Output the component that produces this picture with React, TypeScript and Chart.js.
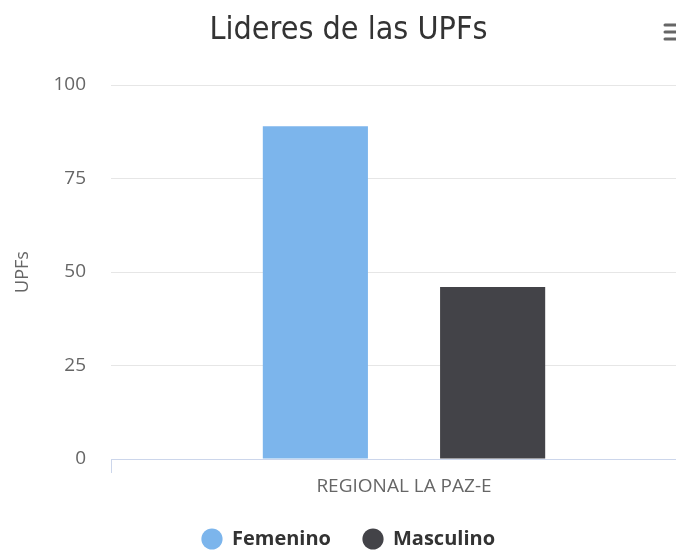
import React, { useEffect, useRef } from "react";
import { Chart, registerables } from "chart.js";

Chart.register(...registerables);

const titleText = "Lideres de las UPFs";
const categories = ["REGIONAL LA PAZ-E"];
const femeninoValues = [89];
const masculinoValues = [46];
const yTicks = [0, 25, 50, 75, 100];
const yAxisTitle = "UPFs";

const menuIcon = {
  id: "menuIcon",
  afterDraw(chart: any) {
    const ctx = chart.ctx;
    ctx.save();
    ctx.strokeStyle = "#666666";
    ctx.lineWidth = 3;
    ctx.lineCap = "round";
    [25, 32, 39].forEach((y) => {
      ctx.beginPath();
      ctx.moveTo(665, y);
      ctx.lineTo(684, y);
      ctx.stroke();
    });
    ctx.restore();
  },
};

export default function App() {
  const ref = useRef<HTMLCanvasElement | null>(null);
  useEffect(() => {
    document.body.style.margin = "0";
    const chart = new Chart(ref.current as HTMLCanvasElement, {
      type: "bar",
      data: {
        labels: categories,
        datasets: [
          {
            label: "Femenino",
            data: femeninoValues,
            backgroundColor: "#7cb5ec",
            borderWidth: 0,
            categoryPercentage: 0.605,
            barPercentage: 0.593,
          },
          {
            label: "Masculino",
            data: masculinoValues,
            backgroundColor: "#434348",
            borderWidth: 0,
            categoryPercentage: 0.605,
            barPercentage: 0.593,
          },
        ],
      },
      options: {
        responsive: false,
        animation: false,
        layout: { padding: { left: 0, right: 3, top: 0, bottom: 0 } },
        plugins: {
          title: {
            display: true,
            text: titleText,
            color: "#333333",
            font: { family: "'DejaVu Sans Condensed', 'DejaVu Sans'", size: 32, weight: "normal" },
            padding: { top: 11, bottom: 35.6 },
          },
          legend: {
            position: "bottom",
            labels: {
              usePointStyle: true,
              pointStyle: "circle",
              boxWidth: 20,
              boxHeight: 15,
              color: "#333333",
              padding: 32,
              font: { family: "'Open Sans'", size: 20, weight: "bold" },
            },
          },
          tooltip: { enabled: false },
        },
        scales: {
          x: {
            offset: true,
            border: { display: true, color: "#ccd6eb", width: 1 },
            grid: {
              display: true,
              offset: true,
              drawOnChartArea: false,
              drawTicks: true,
              tickLength: 14,
              color: "#ccd6eb",
            },
            ticks: {
              color: "#666666",
              font: { family: "'Open Sans'", size: 19 },
              padding: 2,
            },
            afterFit: (scale: any) => {
              scale.height = 38;
            },
          },
          y: {
            min: 0,
            max: 100,
            afterBuildTicks: (axis: any) => {
              axis.ticks = yTicks.map((v) => ({ value: v }));
            },
            afterFit: (scale: any) => {
              scale.width = 111;
            },
            border: { display: false },
            grid: { color: "#e6e6e6", drawTicks: false },
            ticks: {
              color: "#666666",
              font: { family: "'Open Sans'", size: 19 },
              padding: 25,
            },
            title: {
              display: true,
              text: yAxisTitle,
              color: "#666666",
              font: { family: "'Open Sans'", size: 18 },
              padding: { top: 12, bottom: 0 },
            },
          },
        },
      },
      plugins: [menuIcon],
    });
    return () => chart.destroy();
  }, []);
  return (
    <div style={{ width: 676, height: 550, overflow: "hidden", background: "#ffffff" }}>
      <canvas ref={ref} width={700} height={559} style={{ display: "block" }} />
    </div>
  );
}
